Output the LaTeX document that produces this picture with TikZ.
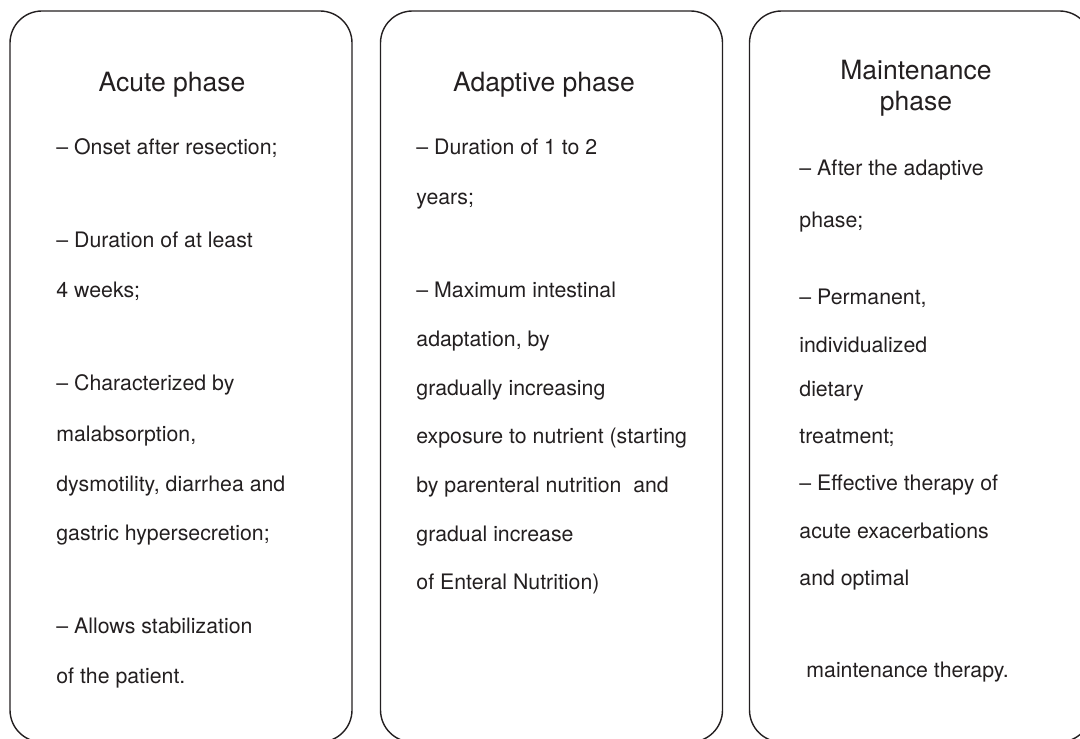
\documentclass[tikz,border=0pt]{standalone}
\usepackage{fontspec}
\setmainfont{TeX Gyre Heros}
\usetikzlibrary{positioning}
\definecolor{inkgray}{HTML}{231F20}

\tikzset{
  phasebox/.style={draw=inkgray, line width=0.7pt, rounded corners=16pt,
    minimum width=171pt, minimum height=365.5pt, inner sep=0pt},
  phasetitle/.style={font=\fontsize{13.25}{15.5}\selectfont, text=inkgray,
    align=center, inner sep=0pt},
  item/.style={font=\fontsize{10.65}{12}\selectfont, text=inkgray,
    anchor=base west, inner sep=0pt},
}

\begin{document}
\begin{tikzpicture}[x=0.5pt,y=-0.5pt]
\useasboundingbox (0,0) rectangle (1080,738);
\clip (0,0) rectangle (1080,738);

% Phase boxes (bottom edges run past the frame)
\node[phasebox] (acute) at (181,376.5) {};
\node[phasebox] (adaptive) at (551.5,376.5) {};
\node[phasebox] (maintenance) at (920.5,376.5) {};

% Titles
\node[phasetitle, anchor=base] (acute-title) at (172,91) {Acute phase};
\node[phasetitle, anchor=base] (adaptive-title) at (544,91) {Adaptive phase};
\node[phasetitle, anchor=north] (maintenance-title) at (916,60) {Maintenance\\phase};

% Acute phase
\foreach \txt/\yy [count=\i] in {{– Onset after resection;}/155, {– Duration of at least}/247,
    {4 weeks;}/297, {– Characterized by}/390, {malabsorption,}/441,
    {dysmotility, diarrhea and}/491, {gastric hypersecretion;}/540,
    {– Allows stabilization}/633, {of the patient.}/683}
  \node[item] (acute-\i) at (56,\yy) {\txt};

% Adaptive phase
\foreach \txt/\yy [count=\i] in {{– Duration of 1 to 2}/155, {years;}/204,
    {– Maximum intestinal}/297, {adaptation, by}/346, {gradually increasing}/395,
    {exposure to nutrient (starting}/443, {by parenteral nutrition\ \ and}/492,
    {gradual increase}/541, {of Enteral Nutrition)}/589}
  \node[item] (adaptive-\i) at (416,\yy) {\txt};

% Maintenance phase
\foreach \txt/\yy [count=\i] in {{– After the adaptive}/175, {phase;}/227,
    {– Permanent,}/304, {individualized}/352, {dietary}/396, {treatment;}/443,
    {– Effective therapy of}/490, {acute exacerbations}/538, {and optimal}/585}
  \node[item] (maintenance-\i) at (799,\yy) {\txt};
\node[item] (maintenance-10) at (806,677) {maintenance therapy.};
\end{tikzpicture}
\end{document}
